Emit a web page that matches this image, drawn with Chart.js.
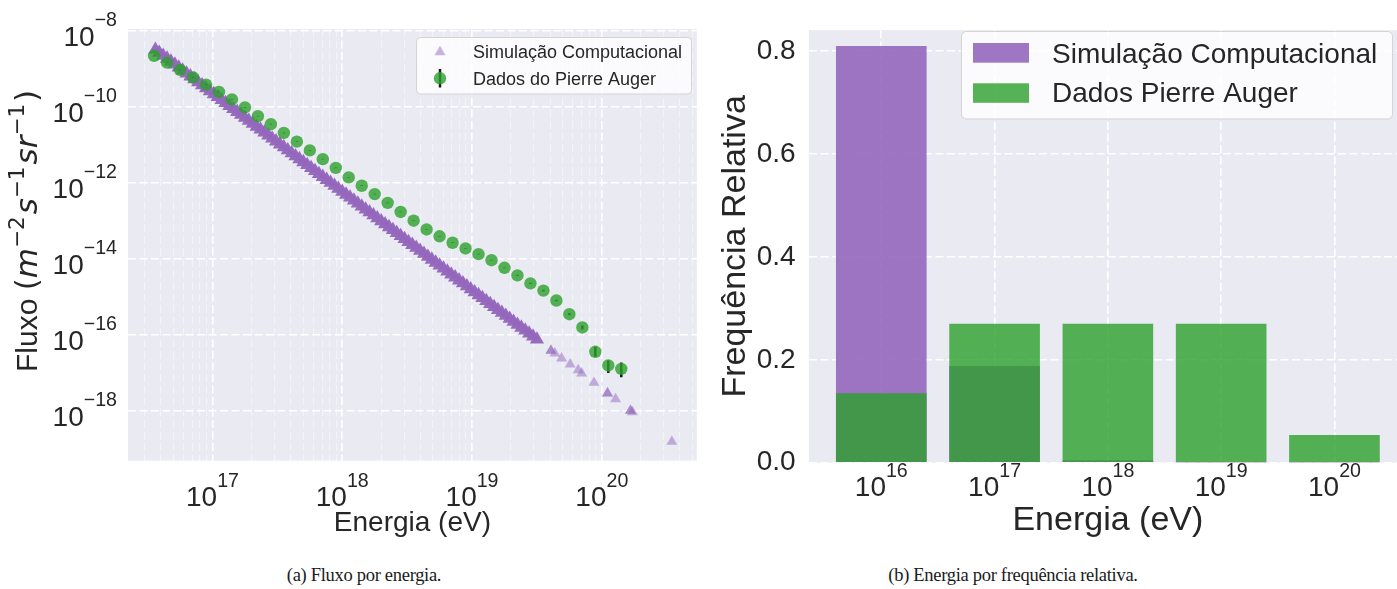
<!DOCTYPE html>
<html>
<head>
<meta charset="utf-8">
<script src="https://cdn.jsdelivr.net/npm/chart.js@4.4.1/dist/chart.umd.min.js"></script>
<style>
  body { margin: 0; background: #fff; width: 1397px; height: 589px; overflow: hidden; position: relative; }
  #leftBox { position: absolute; left: 0; top: 0; width: 705px; height: 545px; }
  #rightBox { position: absolute; left: 705px; top: 0; width: 692px; height: 545px; }
  .caption { position: absolute; top: 565px; font-family: "Liberation Serif", serif; font-size: 18.5px; letter-spacing: -0.3px; color: #1a1a1a; white-space: nowrap; transform: translateX(-50%); }
</style>
</head>
<body>
<div id="leftBox"><canvas id="fluxChart" width="705" height="545"></canvas></div>
<div id="rightBox"><canvas id="freqChart" width="692" height="545"></canvas></div>
<div class="caption" style="left:364px">(a) Fluxo por energia.</div>
<div class="caption" style="left:1013px">(b) Energia por frequência relativa.</div>
<script>
// Simulação Computacional, dense part of the band - log10(E / eV), log10(fluxo)
const simBandLogE = [
  16.56, 16.59, 16.62, 16.65, 16.68, 16.71, 16.74, 16.77, 16.80, 16.83,
  16.86, 16.89, 16.92, 16.95, 16.98, 17.01, 17.04, 17.07, 17.10, 17.13,
  17.16, 17.19, 17.22, 17.25, 17.28, 17.31, 17.34, 17.37, 17.40, 17.43,
  17.46, 17.49, 17.52, 17.55, 17.58, 17.61, 17.64, 17.67, 17.70, 17.73,
  17.76, 17.79, 17.82, 17.85, 17.88, 17.91, 17.94, 17.97, 18.00, 18.03,
  18.06, 18.09, 18.12, 18.15, 18.18, 18.21, 18.24, 18.27, 18.30, 18.33,
  18.36, 18.39, 18.42, 18.45, 18.48, 18.51, 18.54, 18.57, 18.60, 18.63,
  18.66, 18.69, 18.72, 18.75, 18.78, 18.81, 18.84, 18.87, 18.90, 18.93,
  18.96, 18.99, 19.02, 19.05, 19.08, 19.11, 19.14, 19.17, 19.20, 19.23,
  19.26, 19.29, 19.32, 19.35, 19.38, 19.41, 19.44, 19.47, 19.50
];
const simBandLogFlux = [
  -8.500, -8.578, -8.656, -8.733, -8.811, -8.889, -8.967, -9.045, -9.122, -9.200,
  -9.278, -9.356, -9.433, -9.511, -9.589, -9.667, -9.745, -9.822, -9.900, -9.978,
  -10.056, -10.134, -10.211, -10.289, -10.367, -10.445, -10.523, -10.600, -10.678, -10.756,
  -10.834, -10.911, -10.989, -11.067, -11.145, -11.223, -11.300, -11.378, -11.456, -11.534,
  -11.612, -11.689, -11.767, -11.845, -11.923, -12.001, -12.078, -12.156, -12.234, -12.312,
  -12.390, -12.467, -12.545, -12.623, -12.701, -12.778, -12.856, -12.934, -13.012, -13.090,
  -13.167, -13.245, -13.323, -13.401, -13.479, -13.556, -13.634, -13.712, -13.790, -13.868,
  -13.945, -14.023, -14.101, -14.179, -14.256, -14.334, -14.412, -14.490, -14.568, -14.645,
  -14.723, -14.801, -14.879, -14.957, -15.034, -15.112, -15.190, -15.268, -15.346, -15.423,
  -15.501, -15.579, -15.657, -15.734, -15.812, -15.890, -15.968, -16.046, -16.123
];
// Simulação Computacional, isolated points at the highest energies
const simTailLogE = [
  19.608, 19.608, 19.638, 19.690, 19.756, 19.818, 19.845, 19.940, 20.044, 20.044,
  20.106, 20.221, 20.221, 20.236, 20.540
];
const simTailLogFlux = [
  -16.421, -16.421, -16.489, -16.621, -16.779, -16.929, -17.016, -17.263, -17.542, -17.542,
  -17.692, -18.000, -18.000, -18.034, -18.816
];

// Dados do Pierre Auger - log10(E / eV), log10(fluxo) and error bars in decades
const augerLogE = [
  16.55, 16.65, 16.75, 16.85, 16.95, 17.05, 17.15, 17.25, 17.35, 17.45,
  17.55, 17.65, 17.75, 17.85, 17.95, 18.05, 18.15, 18.25, 18.35, 18.45,
  18.55, 18.65, 18.75, 18.85, 18.95, 19.05, 19.15, 19.25, 19.35, 19.45,
  19.55, 19.65, 19.75, 19.85, 19.95, 20.05, 20.15
];
const augerLogFlux = [
  -8.66, -8.84, -9.03, -9.23, -9.42, -9.61, -9.81, -10.02, -10.25, -10.46,
  -10.69, -10.92, -11.15, -11.38, -11.61, -11.86, -12.08, -12.30, -12.53, -12.77,
  -13.00, -13.23, -13.41, -13.58, -13.73, -13.88, -14.04, -14.24, -14.44, -14.65,
  -14.84, -15.10, -15.46, -15.81, -16.45, -16.81, -16.90
];
const augerErrUp = [
  0.01, 0.01, 0.01, 0.01, 0.01, 0.01, 0.01, 0.01, 0.01, 0.01,
  0.01, 0.01, 0.01, 0.01, 0.01, 0.01, 0.01, 0.01, 0.01, 0.01,
  0.01, 0.01, 0.01, 0.01, 0.01, 0.01, 0.01, 0.01, 0.015, 0.015,
  0.02, 0.02, 0.03, 0.05, 0.13, 0.13, 0.17
];
const augerErrDown = [
  0.01, 0.01, 0.01, 0.01, 0.01, 0.01, 0.01, 0.01, 0.01, 0.01,
  0.01, 0.01, 0.01, 0.01, 0.01, 0.01, 0.01, 0.01, 0.01, 0.01,
  0.01, 0.01, 0.01, 0.01, 0.01, 0.01, 0.01, 0.01, 0.015, 0.015,
  0.02, 0.02, 0.03, 0.05, 0.13, 0.20, 0.22
];

// ticks of the flux panel (exponents)
const fluxXTickExp = [17, 18, 19, 20];
const fluxYTickExp = [-8, -10, -12, -14, -16, -18];

// frequency panel
const binExp = [16, 17, 18, 19, 20];
const simFreq = [0.81, 0.188, 0.005, 0.0006, 0.0004];
const augerFreq = [0.135, 0.27, 0.27, 0.27, 0.054];
const freqYTicks = [0, 0.2, 0.4, 0.6, 0.8];

const INK = '#262626';
const PURPLE_LIGHT = 'rgba(148, 103, 189, 0.5)';
const PURPLE_BAND = 'rgba(148, 103, 189, 0.97)';
const PURPLE_BAR = 'rgba(148, 103, 189, 0.9)';
const GREEN = 'rgba(44, 160, 44, 0.8)';
const SANS = '"Liberation Sans", Arial, sans-serif';

Chart.defaults.font.family = SANS;
Chart.defaults.color = INK;

function isDecade(v) {
  const l = Math.log10(v);
  return Math.abs(l - Math.round(l)) < 1e-6;
}

// "10" with a raised exponent, like matplotlib's log tick labels
function drawPow(ctx, exp, x, y, align, size) {
  const big = size + 'px ' + SANS;
  const small = (size * 0.7).toFixed(1) + 'px ' + SANS;
  ctx.textAlign = 'left';
  ctx.textBaseline = 'alphabetic';
  ctx.font = big;
  const wb = ctx.measureText('10').width;
  ctx.font = small;
  const we = ctx.measureText(exp).width;
  const x0 = align === 'right' ? x - wb - we : x - (wb + we) / 2;
  ctx.font = big;
  ctx.fillText('10', x0, y);
  ctx.font = small;
  ctx.fillText(exp, x0 + wb, y - size * 0.69);
}

const panelBg = {
  id: 'panelBg',
  beforeDraw(chart) {
    const { ctx, chartArea: a } = chart;
    ctx.save();
    ctx.fillStyle = '#EAEAF2';
    ctx.fillRect(a.left, a.top, a.right - a.left, a.bottom - a.top);
    ctx.restore();
  }
};

// ---------- left panel: flux vs energy ----------
const toPoints = (le, lf) => le.map((e, i) => ({ x: 10 ** e, y: 10 ** lf[i] }));
const errorSegments = [];
augerLogE.forEach((e, i) => {
  errorSegments.push({ x: 10 ** e, y: 10 ** (augerLogFlux[i] + augerErrUp[i]) });
  errorSegments.push({ x: 10 ** e, y: 10 ** (augerLogFlux[i] - augerErrDown[i]) });
  errorSegments.push({ x: 10 ** e, y: null });
});

const xMinorTicks = [];
for (let d = 16; d <= 20; d++) {
  for (let m = 1; m <= 9; m++) xMinorTicks.push(m * 10 ** d);
}

const leftDecor = {
  id: 'leftDecor',
  afterDraw(chart) {
    const { ctx, chartArea: a } = chart;
    const x = chart.scales.x, y = chart.scales.y;
    ctx.save();
    ctx.fillStyle = INK;
    fluxXTickExp.forEach(e => drawPow(ctx, String(e), x.getPixelForValue(10 ** e), 506, 'center', 28));
    fluxYTickExp.forEach(e => drawPow(ctx, '\u2212' + (-e), 117, y.getPixelForValue(10 ** e) + 15, 'right', 28));

    ctx.font = '28px ' + SANS;
    ctx.textAlign = 'center';
    ctx.fillText('Energia (eV)', (a.left + a.right) / 2, 531);

    // y label with mathtext-like pieces
    const reg = '30px ' + SANS;
    const ital = 'italic 31px "DejaVu Sans"';
    const mreg = '31px "DejaVu Sans"';
    const sup = '21.5px "DejaVu Sans"';
    const parts = [
      ['Fluxo ', reg, 0], ['(', mreg, 0], ['m', ital, 0], ['\u22122', sup, 13], ['s', ital, 0],
      ['\u22121', sup, 13], ['sr', ital, 0], ['\u22121', sup, 13], [')', mreg, 0]
    ];
    ctx.save();
    ctx.translate(37, 372);
    ctx.rotate(-Math.PI / 2);
    ctx.textAlign = 'left';
    let px = 0;
    parts.forEach(([t, f, up]) => {
      ctx.font = f;
      ctx.fillText(t, px, -up);
      px += ctx.measureText(t).width + (up ? 2 : 0);
    });
    ctx.restore();

    // legend
    ctx.beginPath();
    ctx.roundRect(416.5, 37.5, 275, 56.5, 4);
    ctx.fillStyle = 'rgba(255,255,255,0.8)';
    ctx.fill();
    ctx.strokeStyle = 'rgba(204,204,204,0.8)';
    ctx.lineWidth = 1;
    ctx.stroke();

    const r = 6.3;
    ctx.fillStyle = PURPLE_LIGHT;
    ctx.beginPath();
    ctx.moveTo(440, 52 - r);
    ctx.lineTo(440 + r * Math.sin(2 * Math.PI / 3), 52 + r / 2);
    ctx.lineTo(440 - r * Math.sin(2 * Math.PI / 3), 52 + r / 2);
    ctx.closePath();
    ctx.fill();

    ctx.strokeStyle = '#1a1a1a';
    ctx.lineWidth = 2.5;
    ctx.beginPath();
    ctx.moveTo(440, 69);
    ctx.lineTo(440, 87.5);
    ctx.stroke();
    ctx.fillStyle = GREEN;
    ctx.beginPath();
    ctx.arc(440, 78.3, 6.2, 0, Math.PI * 2);
    ctx.fill();

    ctx.fillStyle = INK;
    ctx.font = '18px ' + SANS;
    ctx.textAlign = 'left';
    ctx.fillText('Simulação Computacional', 473, 58.2);
    ctx.fillText('Dados do Pierre Auger', 473, 84.8);
    ctx.restore();
  }
};

new Chart(document.getElementById('fluxChart'), {
  type: 'scatter',
  data: {
    datasets: [
      {
        label: 'Dados do Pierre Auger',
        data: toPoints(augerLogE, augerLogFlux),
        pointStyle: 'circle',
        pointRadius: 6.2,
        backgroundColor: GREEN,
        borderWidth: 0,
        order: 1
      },
      {
        label: 'erro',
        type: 'line',
        data: errorSegments,
        borderColor: '#1a1a1a',
        borderWidth: 2.5,
        pointRadius: 0,
        spanGaps: false,
        order: 2
      },
      {
        label: 'Simulação Computacional',
        data: toPoints(simTailLogE, simTailLogFlux),
        pointStyle: 'triangle',
        pointRadius: 6.3,
        backgroundColor: PURPLE_LIGHT,
        borderWidth: 0,
        order: 3
      },
      {
        label: 'Simulação Computacional (faixa)',
        data: toPoints(simBandLogE, simBandLogFlux),
        pointStyle: 'triangle',
        pointRadius: 8.2,
        backgroundColor: PURPLE_BAND,
        borderWidth: 0,
        order: 4
      }
    ]
  },
  options: {
    responsive: false,
    animation: false,
    devicePixelRatio: 1,
    events: [],
    layout: { padding: { left: 0, top: 29, right: 5, bottom: 0 } },
    plugins: { legend: { display: false }, tooltip: { enabled: false } },
    scales: {
      x: {
        type: 'logarithmic',
        min: 10 ** 16.349,
        max: 10 ** 20.732,
        afterBuildTicks: s => { s.ticks = xMinorTicks.map(v => ({ value: v })); },
        afterFit: s => { s.height = 84.3; },
        ticks: { display: false },
        grid: {
          drawTicks: false,
          color: c => isDecade(c.tick.value) ? '#ffffff' : 'rgba(255,255,255,0.45)',
          lineWidth: c => isDecade(c.tick.value) ? 1.6 : 1.2
        },
        border: { display: false, dash: [8, 3.5] }
      },
      y: {
        type: 'logarithmic',
        min: 10 ** -19.316,
        max: 10 ** -7.955,
        afterBuildTicks: s => { s.ticks = fluxYTickExp.map(e => ({ value: 10 ** e })); },
        afterFit: s => { s.width = 128; },
        ticks: { display: false },
        grid: { drawTicks: false, color: '#ffffff', lineWidth: 1.6 },
        border: { display: false, dash: [8, 3.5] }
      }
    }
  },
  plugins: [panelBg, leftDecor]
});

// ---------- right panel: relative frequency per energy ----------
const rightDecor = {
  id: 'rightDecor',
  afterDraw(chart) {
    const { ctx, chartArea: a } = chart;
    const x = chart.scales.x;
    ctx.save();
    ctx.fillStyle = INK;
    binExp.forEach(e => drawPow(ctx, String(e), x.getPixelForValue(e), 496, 'center', 28));

    ctx.font = '34px ' + SANS;
    ctx.textAlign = 'center';
    ctx.fillText('Energia (eV)', x.getPixelForValue(18), 530);

    ctx.save();
    ctx.translate(40, (a.top + a.bottom) / 2);
    ctx.rotate(-Math.PI / 2);
    ctx.textAlign = 'center';
    ctx.fillText('Frequência Relativa', 0, 0);
    ctx.restore();

    // legend (canvas coords = page x - 705)
    ctx.beginPath();
    ctx.roundRect(256.5, 31.5, 431, 87.5, 5);
    ctx.fillStyle = 'rgba(255,255,255,0.8)';
    ctx.fill();
    ctx.strokeStyle = 'rgba(204,204,204,0.8)';
    ctx.lineWidth = 1;
    ctx.stroke();

    ctx.fillStyle = PURPLE_BAR;
    ctx.fillRect(268, 43, 56, 19.7);
    ctx.fillStyle = GREEN;
    ctx.fillRect(268, 83.3, 56, 19.5);

    ctx.fillStyle = INK;
    ctx.font = '28px ' + SANS;
    ctx.textAlign = 'left';
    ctx.fillText('Simulação Computacional', 347, 63);
    ctx.fillText('Dados Pierre Auger', 347, 102);
    ctx.restore();
  }
};

new Chart(document.getElementById('freqChart'), {
  type: 'bar',
  data: {
    datasets: [
      {
        label: 'Dados Pierre Auger',
        data: binExp.map((e, i) => ({ x: e, y: augerFreq[i] })),
        backgroundColor: GREEN,
        grouped: false,
        barPercentage: 0.8,
        categoryPercentage: 1,
        order: 1
      },
      {
        label: 'Simulação Computacional',
        data: binExp.map((e, i) => ({ x: e, y: simFreq[i] })),
        backgroundColor: PURPLE_BAR,
        grouped: false,
        barPercentage: 0.8,
        categoryPercentage: 1,
        order: 2
      }
    ]
  },
  options: {
    responsive: false,
    animation: false,
    devicePixelRatio: 1,
    events: [],
    layout: { padding: { left: 0, top: 20, right: 0, bottom: 0 } },
    plugins: { legend: { display: false }, tooltip: { enabled: false } },
    scales: {
      x: {
        type: 'linear',
        offset: false,
        min: 15.361,
        max: 20.552,
        afterBuildTicks: s => { s.ticks = binExp.map(v => ({ value: v })); },
        afterFit: s => { s.height = 82.3; },
        ticks: { display: false },
        grid: { offset: false, drawTicks: false, color: '#ffffff', lineWidth: 1.6 },
        border: { display: false, dash: [8, 3.5] }
      },
      y: {
        type: 'linear',
        min: 0,
        max: 0.841,
        afterBuildTicks: s => { s.ticks = freqYTicks.map(v => ({ value: v })); },
        afterFit: s => { s.width = 103.9; },
        ticks: {
          padding: 13.3,
          color: INK,
          font: { size: 28, family: SANS },
          callback: v => v.toFixed(1)
        },
        grid: { drawTicks: false, color: '#ffffff', lineWidth: 1.6 },
        border: { display: false, dash: [8, 3.5] }
      }
    }
  },
  plugins: [panelBg, rightDecor]
});
</script>
</body>
</html>
